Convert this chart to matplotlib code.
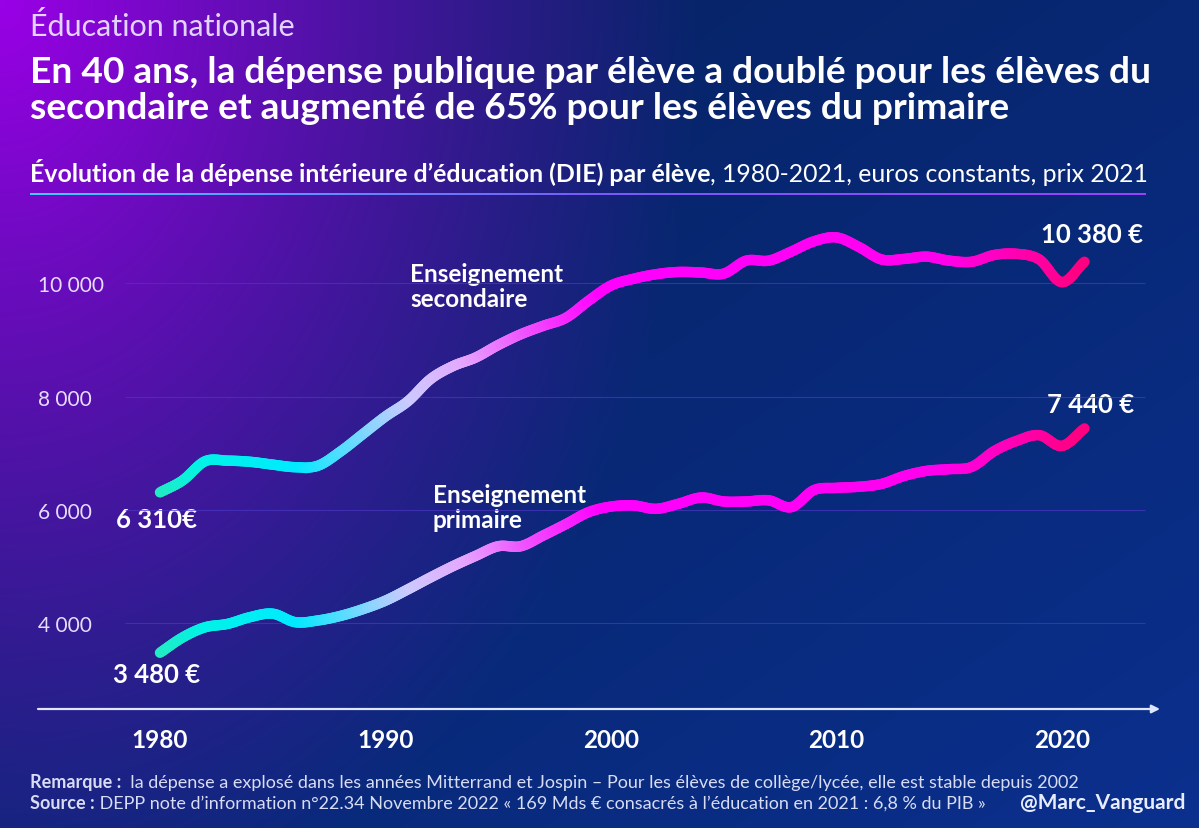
import numpy as np
import matplotlib.pyplot as plt
from matplotlib.collections import LineCollection
from matplotlib.colors import LinearSegmentedColormap, to_rgb

plt.rcParams['font.family'] = ['Lato', 'DejaVu Sans']

# ---- data ----
years = list(range(1980, 2022))
secondaire = [6310, 6520, 6860, 6870, 6850, 6800, 6755, 6780, 7030, 7340,
              7650, 7920, 8310, 8540, 8690, 8910, 9100, 9250, 9390, 9690,
              9960, 10080, 10160, 10200, 10190, 10170, 10400, 10400, 10560, 10740,
              10810, 10640, 10420, 10430, 10470, 10400, 10380, 10500, 10520, 10420,
              10020, 10380]
primaire = [3480, 3750, 3930, 3990, 4110, 4170, 4020, 4050, 4130, 4250,
            4400, 4600, 4810, 5010, 5190, 5360, 5360, 5550, 5750, 5960,
            6060, 6080, 6020, 6110, 6220, 6150, 6150, 6170, 6050, 6350,
            6390, 6410, 6460, 6600, 6690, 6720, 6760, 7040, 7220, 7320,
            7130, 7440]
xticks = [1980, 1990, 2000, 2010, 2020]
yticks = [4000, 6000, 8000, 10000]
ytick_labels = ['4 000', '6 000', '8 000', '10 000']

W, H = 1199, 829
fig = plt.figure(figsize=(W / 100, H / 100), dpi=100)

# ---- background gradient ----
bg = fig.add_axes([0, 0, 1, 1])
bg.set_xlim(0, W)
bg.set_ylim(H, 0)
bg.axis('off')
gy, gx = np.mgrid[0:H:4, 0:W:4].astype(float)
navy = np.array(to_rgb('#072468'))
blue = np.array(to_rgb('#0b3192'))
purple = np.array(to_rgb('#9a00e6'))
d = np.sqrt((gx / 700) ** 2 + (gy / 950) ** 2)
wp = np.clip(1 - d, 0, 1) ** 1.1
wb = np.clip((gx / W) * 0.6 + (gy / H) * 0.6 - 0.3, 0, 1)
img = navy * (1 - wb[..., None]) + blue * wb[..., None]
img = img * (1 - wp[..., None]) + purple * wp[..., None]
bg.imshow(img, extent=[0, W, H, 0], aspect='auto', interpolation='bilinear', zorder=0)

# ---- headings ----
bg.text(30, 26, 'Éducation nationale', color='#e2d4ff', fontsize=22, va='center')
bg.text(30, 72, 'En 40 ans, la dépense publique par élève a doublé pour les élèves du',
        color='white', fontsize=26.7, fontweight='bold', va='center')
bg.text(30, 108, 'secondaire et augmenté de 65% pour les élèves du primaire',
        color='white', fontsize=26.7, fontweight='bold', va='center')
t1 = bg.text(30, 186, 'Évolution de la dépense intérieure d’éducation (DIE) par élève',
             color='white', fontsize=17.9, fontweight='bold', va='bottom')
bg.annotate(', 1980-2021, euros constants, prix 2021', xy=(1, 0), xycoords=t1,
            color='white', fontsize=17.9, va='bottom')

# underline with gradient
ux = np.linspace(30, 1146, 200)
useg = np.stack([np.column_stack([ux[:-1], np.full(199, 195)]),
                 np.column_stack([ux[1:], np.full(199, 195)])], axis=1)
ucm = LinearSegmentedColormap.from_list('u', ['#3fd0ff', '#7a5cff', '#a040ff'])
ulc = LineCollection(useg, cmap=ucm, linewidth=1.4)
ulc.set_array(ux[:-1])
bg.add_collection(ulc)

# ---- footer ----
r = bg.text(30, 791, 'Remarque :', color='#d8dcf4', fontsize=13, fontweight='bold', va='bottom')
bg.annotate('  la dépense a explosé dans les années Mitterrand et Jospin – Pour les élèves de collège/lycée, elle est stable depuis 2002',
            xy=(1, 0), xycoords=r, color='#d8dcf4', fontsize=13, va='bottom')
s = bg.text(30, 812, 'Source :', color='#d8dcf4', fontsize=13, fontweight='bold', va='bottom')
bg.annotate(' DEPP note d’information n°22.34 Novembre 2022 « 169 Mds € consacrés à l’éducation en 2021 : 6,8 % du PIB »',
            xy=(1, 0), xycoords=s, color='#d8dcf4', fontsize=13, va='bottom')
bg.text(1185, 803, '@Marc_Vanguard', color='#e8ecff', fontsize=15, fontweight='bold', ha='right', va='center')

# ---- chart ----
ax = fig.add_axes([38 / W, 1 - 710 / H, (1160 - 38) / W, (710 - 210) / H])
ax.set_xlim(1974.59, 2024.35)
ax.set_ylim(2488, 11311)
ax.patch.set_alpha(0)
for sp in ax.spines.values():
    sp.set_visible(False)

ax.hlines(yticks, 1978.45, 2023.68, color='#4a36c4', linewidth=0.8, alpha=0.7, zorder=1)

ax.set_xticks(xticks)
ax.set_xticklabels([str(t) for t in xticks], color='white', fontsize=17.5, fontweight='bold')
ax.tick_params(axis='x', length=0, pad=14)
ax.set_yticks(yticks)
ax.set_yticklabels(ytick_labels, color='#e6dcff', fontsize=15)
ax.tick_params(axis='y', length=0, pad=0)
for lab in ax.get_yticklabels():
    lab.set_horizontalalignment('left')

ax.annotate('', xy=(1, 0), xytext=(0, 0), xycoords='axes fraction',
            arrowprops=dict(arrowstyle='-|>', color='#dce6ff', lw=1.6, mutation_scale=12,
                            shrinkA=0, shrinkB=0))

line_cmap = LinearSegmentedColormap.from_list('grad', [
    (0.00, '#22ecc4'), (0.05, '#00f2e8'), (0.15, '#00eaff'), (0.22, '#78d8ff'),
    (0.27, '#cccaff'), (0.33, '#e4a8ff'), (0.40, '#f050ff'), (0.48, '#ff00ff'),
    (0.85, '#ff00ee'), (1.00, '#ff0080')])


def smooth(x, y, n=12):
    # Catmull-Rom curve through the yearly points, only for drawing
    x = np.asarray(x, float)
    y = np.asarray(y, float)
    xp = np.concatenate([[2 * x[0] - x[1]], x, [2 * x[-1] - x[-2]]])
    yp = np.concatenate([[2 * y[0] - y[1]], y, [2 * y[-1] - y[-2]]])
    t = np.linspace(0, 1, n, endpoint=False)[:, None]
    outx, outy = [], []
    for i in range(1, len(xp) - 2):
        for arr, out in ((xp, outx), (yp, outy)):
            p0, p1, p2, p3 = arr[i - 1], arr[i], arr[i + 1], arr[i + 2]
            c = 0.5 * (2 * p1 + (-p0 + p2) * t + (2 * p0 - 5 * p1 + 4 * p2 - p3) * t ** 2
                       + (-p0 + 3 * p1 - 3 * p2 + p3) * t ** 3)
            out.extend(c.ravel())
    outx.append(x[-1])
    outy.append(y[-1])
    return np.array(outx), np.array(outy)


def gradient_line(xv, yv):
    xs, ys = smooth(xv, yv)
    pts = np.column_stack([xs, ys]).reshape(-1, 1, 2)
    segs = np.concatenate([pts[:-1], pts[1:]], axis=1)
    lc = LineCollection(segs, cmap=line_cmap, norm=plt.Normalize(years[0], years[-1]),
                        linewidth=7.5, capstyle='round', zorder=3)
    lc.set_array((xs[:-1] + xs[1:]) / 2)
    ax.add_collection(lc)


gradient_line(years, secondaire)
gradient_line(years, primaire)

def fmt(v):
    return f'{v:,}'.replace(',', ' ')

lab_kw = dict(color='white', fontsize=18.5, fontweight='bold', va='center')
bg.text(116, 520, fmt(secondaire[0]) + '€', **lab_kw)
bg.text(113, 675, fmt(primaire[0]) + ' €', **lab_kw)
bg.text(1143, 235, fmt(secondaire[-1]) + ' €', ha='right', **lab_kw)
bg.text(1134, 405, fmt(primaire[-1]) + ' €', ha='right', **lab_kw)

name_kw = dict(color='white', fontsize=17.5, fontweight='bold', va='center', linespacing=1.15)
bg.text(410, 287, 'Enseignement\nsecondaire', **name_kw)
bg.text(433, 508, 'Enseignement\nprimaire', **name_kw)

fig.savefig('out.png', dpi=100)
